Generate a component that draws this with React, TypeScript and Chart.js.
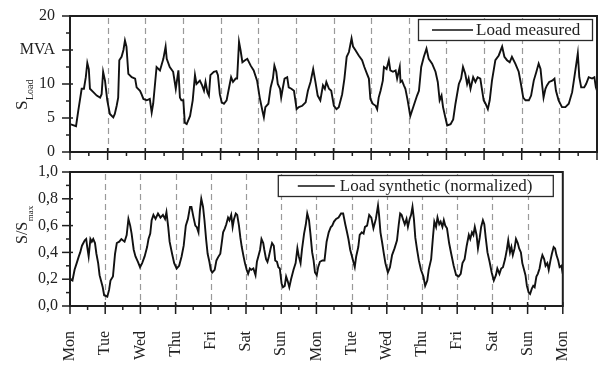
import React, { useEffect, useRef } from 'react';
import { Chart, registerables } from 'chart.js';
Chart.register(...registerables);

const FONT = '"Liberation Serif", "Times New Roman", Times, serif';

const dayLabels = ['Mon', 'Tue', 'Wed', 'Thu', 'Fri', 'Sat', 'Sun', 'Mon', 'Tue', 'Wed', 'Thu', 'Fri', 'Sat', 'Sun', 'Mon'];

// Top panel: measured load (MVA), time in days from the first Monday
const loadDays = [
  0.00, 0.16, 0.22, 0.31, 0.37, 0.42, 0.46, 0.50, 0.53, 0.62, 0.71, 0.80, 0.84, 0.88, 0.93, 0.99, 1.06, 1.15, 1.19, 1.24,
  1.28, 1.31, 1.37, 1.42, 1.46, 1.50, 1.55, 1.64, 1.73, 1.77, 1.86, 1.90, 1.95, 2.04, 2.12, 2.17, 2.21, 2.30, 2.39, 2.48,
  2.54, 2.57, 2.65, 2.74, 2.81, 2.88, 2.92, 2.96, 3.01, 3.05, 3.10, 3.19, 3.26, 3.32, 3.36, 3.45,
  3.51, 3.56, 3.60, 3.65, 3.69, 3.73, 3.82, 3.89, 3.93, 3.98, 4.03, 4.09, 4.16, 4.22, 4.28, 4.33, 4.40, 4.44, 4.49, 4.53,
  4.58, 4.65, 4.71, 4.80, 4.88, 4.97, 5.04, 5.11, 5.15, 5.19, 5.27, 5.33, 5.39, 5.43, 5.48, 5.52, 5.58, 5.61, 5.65, 5.70,
  5.77, 5.81, 5.88, 5.95, 6.02, 6.08, 6.17, 6.26, 6.32, 6.39, 6.46, 6.52, 6.58, 6.65, 6.72, 6.77, 6.81, 6.88, 6.94, 7.01,
  7.08, 7.14, 7.23, 7.29, 7.35, 7.41, 7.48, 7.52, 7.58, 7.67, 7.76, 7.82, 7.89, 7.94, 7.98, 8.04, 8.12, 8.16, 8.20, 8.25,
  8.31, 8.34, 8.41, 8.47, 8.51, 8.58, 8.65, 8.69, 8.76,
  8.78, 8.82, 8.87, 8.91, 8.97, 9.04, 9.13, 9.22, 9.27, 9.33, 9.40, 9.47, 9.53, 9.62, 9.71, 9.77, 9.82, 9.87, 9.91, 9.97,
  10.02, 10.11, 10.18, 10.24, 10.33, 10.39, 10.44, 10.50, 10.55, 10.59, 10.64, 10.71, 10.77, 10.83, 10.90, 10.95, 10.99, 11.04, 11.10, 11.15,
  11.21, 11.30, 11.39, 11.48, 11.54, 11.61, 11.68, 11.74, 11.83, 11.92, 11.98, 12.04, 12.10, 12.19, 12.25, 12.32, 12.39, 12.45, 12.50, 12.54,
  12.58, 12.63, 12.67, 12.73, 12.81, 12.87, 12.91, 12.98, 13.07, 13.16, 13.25, 13.34, 13.43, 13.49, 13.53, 13.58, 13.66, 13.71, 13.78, 13.87,
  13.93, 13.97, 14.00,
];
const loadMVA = [
  4.1, 3.8, 6.1, 9.3, 9.3, 11.0, 13.1, 12.2, 9.3, 8.8, 8.3, 8.0, 8.5, 11.8, 10.5, 7.6, 5.6, 5.1, 5.6, 6.8,
  8.0, 13.5, 14.0, 15.0, 16.4, 15.5, 11.5, 11.0, 10.8, 9.5, 9.0, 8.5, 7.8, 7.6, 7.8, 5.8, 7.1, 12.5, 12.0, 13.7,
  15.5, 13.7, 12.5, 11.8, 9.3, 12.0, 8.0, 7.6, 7.6, 4.3, 4.1, 5.3, 7.6, 11.3, 10.0, 10.5,
  9.8, 9.0, 10.3, 8.8, 8.3, 11.3, 11.8, 11.9, 11.3, 8.5, 7.3, 7.1, 7.6, 9.3, 11.0, 10.3, 10.8, 10.8, 16.2, 15.0,
  13.2, 13.5, 13.7, 12.7, 12.0, 10.5, 8.0, 6.1, 5.1, 6.6, 7.1, 9.5, 10.8, 12.7, 11.8, 10.0, 9.3, 8.0, 9.3, 10.8,
  11.0, 9.5, 9.3, 9.0, 6.3, 6.6, 6.8, 7.3, 9.0, 10.3, 12.2, 10.3, 8.3, 7.6, 9.8, 9.3, 10.3, 9.3, 9.0, 6.8,
  6.3, 6.6, 8.5, 10.8, 14.0, 14.7, 16.7, 15.5, 15.0, 14.2, 13.5, 12.5, 11.5, 10.8, 7.8, 7.1, 6.8, 6.3, 8.0, 9.0,
  10.5, 12.5, 12.2, 13.5, 12.0, 11.8, 12.0, 10.8, 12.5,
  10.3, 10.5, 9.8, 9.3, 7.6, 5.3, 6.8, 8.3, 9.0, 12.5, 14.0, 15.2, 13.7, 13.0, 11.8, 10.3, 7.6, 8.3, 6.6, 5.1,
  3.9, 4.1, 4.8, 7.1, 10.0, 10.8, 12.5, 11.5, 10.0, 10.8, 9.3, 11.0, 10.3, 11.0, 10.8, 9.0, 7.6, 7.1, 6.3, 7.6,
  10.5, 13.5, 14.2, 15.5, 14.0, 13.5, 13.2, 14.0, 13.0, 11.8, 10.0, 8.0, 7.6, 7.6, 8.3, 10.5, 11.8, 13.0, 12.2, 10.0,
  8.0, 9.3, 9.8, 10.3, 10.5, 10.8, 9.0, 7.6, 6.6, 6.6, 7.1, 8.8, 12.2, 14.5, 11.0, 9.5, 9.5, 10.0, 11.0, 10.8,
  11.0, 9.5, 9.0,
];

// Bottom panel: synthetic load, normalized S/Smax
const synthDays = [
  0.00, 0.07, 0.13, 0.19, 0.25, 0.29, 0.34, 0.38, 0.42, 0.46, 0.49, 0.53, 0.58, 0.62, 0.66, 0.71, 0.75, 0.80, 0.84, 0.88,
  0.93, 0.97, 1.06, 1.11, 1.15, 1.22, 1.28, 1.33, 1.40, 1.46, 1.55, 1.61, 1.66, 1.71, 1.75, 1.81, 1.86, 1.93, 1.99, 2.05,
  2.12, 2.19, 2.23, 2.28, 2.32, 2.37, 2.43, 2.50, 2.57, 2.64, 2.70, 2.74, 2.79, 2.83, 2.90, 2.96, 3.03, 3.10, 3.17, 3.23,
  3.29, 3.35, 3.41, 3.45,
  3.51, 3.56, 3.60, 3.65, 3.69, 3.73, 3.78, 3.82, 3.87, 3.91, 3.96, 4.00, 4.04, 4.11, 4.16, 4.22, 4.27, 4.31, 4.35, 4.40,
  4.44, 4.49, 4.53, 4.58, 4.62, 4.66, 4.71, 4.75, 4.80, 4.84, 4.88, 4.93, 4.97, 5.02, 5.06, 5.11, 5.15, 5.21, 5.27, 5.31,
  5.35, 5.40, 5.44, 5.49, 5.52, 5.57, 5.61, 5.65, 5.70, 5.74, 5.79, 5.83, 5.88, 5.92, 5.96, 6.01, 6.05, 6.10, 6.14, 6.19,
  6.23, 6.28, 6.35, 6.41, 6.46, 6.50, 6.55, 6.59, 6.65, 6.70, 6.74, 6.79, 6.83, 6.88, 6.92, 6.96, 7.01, 7.05, 7.10, 7.17,
  7.23, 7.29, 7.35, 7.41, 7.45, 7.50, 7.56, 7.63, 7.70, 7.76, 7.82, 7.87, 7.91, 7.96, 8.00, 8.05, 8.09, 8.13, 8.19, 8.23,
  8.29, 8.34, 8.38, 8.44, 8.50, 8.56, 8.62, 8.69, 8.75,
  8.78, 8.82, 8.87, 8.91, 8.96, 9.03, 9.09, 9.15, 9.22, 9.29, 9.34, 9.38, 9.42, 9.47, 9.51, 9.56, 9.60, 9.65, 9.69, 9.73,
  9.77, 9.81, 9.86, 9.91, 9.97, 10.04, 10.09, 10.15, 10.19, 10.26, 10.31, 10.35, 10.40, 10.44, 10.49, 10.53, 10.58, 10.62, 10.66, 10.71,
  10.77, 10.83, 10.90, 10.97, 11.04, 11.10, 11.15, 11.21, 11.27, 11.33, 11.37, 11.42, 11.46, 11.50, 11.55, 11.59, 11.64, 11.68, 11.73, 11.77,
  11.81, 11.86, 11.92, 11.98, 12.04, 12.10, 12.14, 12.20, 12.25, 12.30, 12.36, 12.41, 12.45, 12.50, 12.54, 12.58, 12.63, 12.67, 12.72, 12.76,
  12.81, 12.85, 12.89, 12.94, 12.98, 13.03, 13.07, 13.12, 13.16, 13.20, 13.25, 13.29, 13.34, 13.38, 13.42, 13.47, 13.51, 13.56, 13.60, 13.65,
  13.69, 13.74, 13.78, 13.82, 13.87, 13.91, 13.96, 14.00,
];
const synthNorm = [
  0.20, 0.19, 0.27, 0.32, 0.37, 0.40, 0.45, 0.47, 0.49, 0.50, 0.44, 0.37, 0.50, 0.48, 0.50, 0.47, 0.39, 0.32, 0.23, 0.19,
  0.14, 0.08, 0.07, 0.12, 0.19, 0.22, 0.39, 0.47, 0.48, 0.50, 0.48, 0.53, 0.65, 0.60, 0.54, 0.42, 0.37, 0.33, 0.29, 0.32,
  0.37, 0.44, 0.50, 0.54, 0.64, 0.68, 0.65, 0.69, 0.66, 0.68, 0.65, 0.70, 0.59, 0.48, 0.39, 0.32, 0.28, 0.30, 0.37, 0.45,
  0.60, 0.65, 0.74, 0.74,
  0.66, 0.60, 0.59, 0.55, 0.71, 0.80, 0.74, 0.64, 0.49, 0.39, 0.33, 0.27, 0.25, 0.27, 0.34, 0.37, 0.39, 0.47, 0.55, 0.58,
  0.61, 0.66, 0.64, 0.68, 0.59, 0.65, 0.69, 0.68, 0.60, 0.51, 0.44, 0.37, 0.32, 0.27, 0.24, 0.28, 0.27, 0.28, 0.23, 0.33,
  0.37, 0.42, 0.50, 0.47, 0.42, 0.35, 0.33, 0.37, 0.43, 0.47, 0.45, 0.34, 0.33, 0.29, 0.28, 0.17, 0.14, 0.15, 0.22, 0.18,
  0.14, 0.20, 0.27, 0.32, 0.43, 0.37, 0.32, 0.42, 0.54, 0.61, 0.69, 0.64, 0.54, 0.40, 0.34, 0.25, 0.23, 0.29, 0.33, 0.34,
  0.34, 0.48, 0.55, 0.59, 0.60, 0.63, 0.65, 0.66, 0.69, 0.69, 0.61, 0.55, 0.50, 0.42, 0.38, 0.33, 0.29, 0.37, 0.44, 0.53,
  0.55, 0.54, 0.59, 0.60, 0.68, 0.66, 0.58, 0.65, 0.75,
  0.68, 0.55, 0.47, 0.40, 0.32, 0.25, 0.29, 0.38, 0.43, 0.49, 0.61, 0.69, 0.68, 0.64, 0.61, 0.65, 0.59, 0.65, 0.68, 0.74,
  0.65, 0.51, 0.42, 0.34, 0.27, 0.22, 0.15, 0.19, 0.27, 0.35, 0.51, 0.63, 0.59, 0.66, 0.61, 0.63, 0.59, 0.64, 0.60, 0.58,
  0.47, 0.39, 0.30, 0.23, 0.22, 0.24, 0.32, 0.35, 0.45, 0.53, 0.50, 0.55, 0.53, 0.59, 0.53, 0.43, 0.51, 0.59, 0.64, 0.61,
  0.51, 0.40, 0.33, 0.25, 0.19, 0.23, 0.28, 0.24, 0.28, 0.29, 0.35, 0.42, 0.49, 0.40, 0.44, 0.38, 0.43, 0.50, 0.47, 0.43,
  0.40, 0.32, 0.28, 0.23, 0.15, 0.10, 0.09, 0.13, 0.15, 0.14, 0.22, 0.24, 0.28, 0.34, 0.38, 0.35, 0.30, 0.32, 0.27, 0.34,
  0.39, 0.44, 0.43, 0.38, 0.34, 0.29, 0.30, 0.24,
];

// Tick values and their labels (the top panel shows the unit "MVA" in place of 15)
const topMajor = [0, 5, 10, 15, 20];
const topMinor = [2.5, 7.5, 12.5, 17.5];
const topTickLabels = ['0', '5', '10', 'MVA', '20'];
const botMajor = [0, 0.2, 0.4, 0.6, 0.8, 1.0];
const botMinor = [0.1, 0.3, 0.5, 0.7, 0.9];
const botTickLabels = ['0,0', '0,2', '0,4', '0,6', '0,8', '1,0'];

type PanelOpts = {
  yMajor: number[];
  yMinor: number[];
  yLabels: string[];
  labelGap: number;
  legend: { dxLeft: number; dxRight: number; dyTop: number; h: number; lineFrom: number; lineTo: number; textX: number; text: string };
  title: (ctx: CanvasRenderingContext2D) => void;
};

function panelPlugin(o: PanelOpts) {
  return {
    id: 'panelDecor',
    beforeDatasetsDraw(chart: any) {
      const { ctx, chartArea: a } = chart;
      const xs = chart.scales.x;
      ctx.save();
      ctx.strokeStyle = '#9a9a9a';
      ctx.lineWidth = 1.2;
      ctx.setLineDash([6, 4]);
      for (let d = 1; d < 14; d++) {
        const x = Math.round(xs.getPixelForValue(d)) + 0.5;
        ctx.beginPath();
        ctx.moveTo(x, a.top + 2);
        ctx.lineTo(x, a.bottom);
        ctx.stroke();
      }
      ctx.restore();
    },
    afterDatasetsDraw(chart: any) {
      const { ctx, chartArea: a } = chart;
      const xs = chart.scales.x;
      const ys = chart.scales.y;
      ctx.save();
      ctx.setLineDash([]);
      ctx.strokeStyle = '#1e1e1e';
      ctx.lineWidth = 1.5;
      for (let i = 0; i <= 28; i++) {
        const major = i % 2 === 0;
        const x = xs.getPixelForValue(i / 2);
        ctx.beginPath();
        ctx.moveTo(x, a.bottom + (major ? 8 : 4));
        ctx.lineTo(x, major ? a.bottom - 4 : a.bottom);
        ctx.stroke();
      }
      o.yMajor.forEach((v) => {
        const y = ys.getPixelForValue(v);
        ctx.beginPath();
        ctx.moveTo(a.left - 8, y);
        ctx.lineTo(a.left + 3, y);
        ctx.stroke();
      });
      o.yMinor.forEach((v) => {
        const y = ys.getPixelForValue(v);
        ctx.beginPath();
        ctx.moveTo(a.left - 4, y);
        ctx.lineTo(a.left, y);
        ctx.stroke();
      });
      // y tick labels
      ctx.fillStyle = '#222';
      ctx.font = `16px ${FONT}`;
      ctx.textAlign = 'right';
      ctx.textBaseline = 'middle';
      o.yMajor.forEach((v, i) => {
        ctx.fillText(o.yLabels[i], a.left - o.labelGap, ys.getPixelForValue(v));
      });
      // frame
      ctx.lineWidth = 2;
      ctx.strokeRect(a.left, a.top, a.right - a.left, a.bottom - a.top);
      // legend
      const L = o.legend;
      const bx = a.right - L.dxLeft;
      const bw = L.dxLeft - L.dxRight;
      const by = a.top + L.dyTop;
      ctx.fillStyle = '#ffffff';
      ctx.fillRect(bx, by, bw, L.h);
      ctx.lineWidth = 1.3;
      ctx.strokeStyle = '#2a2a2a';
      ctx.strokeRect(bx + 0.5, by + 0.5, bw, L.h);
      const ly = by + L.h / 2 + 0.5;
      ctx.lineWidth = 1.6;
      ctx.strokeStyle = '#111';
      ctx.beginPath();
      ctx.moveTo(bx + L.lineFrom, ly);
      ctx.lineTo(bx + L.lineTo, ly);
      ctx.stroke();
      ctx.fillStyle = '#222';
      ctx.font = `17px ${FONT}`;
      ctx.textAlign = 'left';
      ctx.textBaseline = 'middle';
      ctx.fillText(L.text, bx + L.textX, ly + 1);
      ctx.restore();
    },
    afterDraw(chart: any) {
      const { ctx } = chart;
      ctx.save();
      ctx.fillStyle = '#222';
      o.title(ctx);
      ctx.restore();
    },
  };
}

function LoadChart() {
  const topRef = useRef<HTMLCanvasElement>(null);
  const botRef = useRef<HTMLCanvasElement>(null);

  useEffect(() => {
    const tickFont = { family: FONT, size: 16 };
    const hiddenY = {
      grid: { display: false, drawTicks: false },
      border: { display: false },
      afterFit: (s: any) => { s.width = 70; },
    };
    const top = new Chart(topRef.current as HTMLCanvasElement, {
      type: 'line',
      data: {
        datasets: [
          {
            data: loadDays.map((d, i) => ({ x: d, y: loadMVA[i] })),
            borderColor: '#111',
            borderWidth: 1.9,
            pointRadius: 0,
            tension: 0,
            fill: false,
          },
        ],
      },
      options: {
        responsive: false,
        animation: false,
        devicePixelRatio: 1,
        layout: { padding: { top: 16, right: 10, left: 0, bottom: 0 } },
        plugins: { legend: { display: false }, tooltip: { enabled: false } },
        scales: {
          x: {
            type: 'linear',
            min: 0,
            max: 14,
            grid: { display: false, drawTicks: false },
            border: { display: false },
            ticks: { display: false, stepSize: 1 },
            afterFit: (s: any) => { s.height = 8; },
          },
          y: { ...hiddenY, min: 0, max: 20, ticks: { display: false, stepSize: 5 } },
        },
      } as any,
      plugins: [
        panelPlugin({
          yMajor: topMajor,
          yMinor: topMinor,
          yLabels: topTickLabels,
          labelGap: 15,
          legend: { dxLeft: 179, dxRight: 5, dyTop: 3, h: 21, lineFrom: 14, lineTo: 55, textX: 58, text: 'Load measured' },
          title: (ctx) => {
            ctx.translate(27, 110);
            ctx.rotate(-Math.PI / 2);
            ctx.textAlign = 'left';
            ctx.textBaseline = 'alphabetic';
            ctx.font = `17px ${FONT}`;
            ctx.fillText('S', 0, 0);
            const w = ctx.measureText('S').width;
            ctx.font = `10px ${FONT}`;
            ctx.fillText('Load', w + 0.5, 6);
          },
        }),
      ],
    });

    const bot = new Chart(botRef.current as HTMLCanvasElement, {
      type: 'line',
      data: {
        datasets: [
          {
            data: synthDays.map((d, i) => ({ x: d, y: synthNorm[i] })),
            borderColor: '#111',
            borderWidth: 1.9,
            pointRadius: 0,
            tension: 0,
            fill: false,
          },
        ],
      },
      options: {
        responsive: false,
        animation: false,
        devicePixelRatio: 1,
        layout: { padding: { top: 12, right: 10, left: 0, bottom: 0 } },
        plugins: { legend: { display: false }, tooltip: { enabled: false } },
        scales: {
          x: {
            type: 'linear',
            min: 0,
            max: 14,
            grid: { display: false, drawTicks: false },
            border: { display: false },
            ticks: {
              stepSize: 1,
              autoSkip: false,
              minRotation: 90,
              maxRotation: 90,
              padding: 25,
              color: '#222',
              font: tickFont,
              callback: (v: any) => dayLabels[Math.round(Number(v))] ?? '',
            },
            afterFit: (s: any) => { s.height = 59; },
          },
          y: { ...hiddenY, min: 0, max: 1, ticks: { display: false, stepSize: 0.2 } },
        },
      } as any,
      plugins: [
        panelPlugin({
          yMajor: botMajor,
          yMinor: botMinor,
          yLabels: botTickLabels,
          labelGap: 12,
          legend: { dxLeft: 285, dxRight: 10, dyTop: 3, h: 21, lineFrom: 20, lineTo: 57, textX: 62, text: 'Load synthetic (normalized)' },
          title: (ctx) => {
            ctx.translate(27, 84);
            ctx.rotate(-Math.PI / 2);
            ctx.textAlign = 'left';
            ctx.textBaseline = 'alphabetic';
            ctx.font = `16px ${FONT}`;
            ctx.fillText('S/S', 0, 0);
            const w = ctx.measureText('S/S').width;
            ctx.font = `9px ${FONT}`;
            ctx.fillText('max', w + 0.5, 6);
          },
        }),
      ],
    });

    return () => {
      top.destroy();
      bot.destroy();
    };
  }, []);

  return (
    <div style={{ position: 'absolute', left: 0, top: 0, width: 607, height: 365, background: '#ffffff', overflow: 'hidden' }}>
      <canvas ref={topRef} width={607} height={160} style={{ position: 'absolute', left: 0, top: 0, width: 607, height: 160 }} />
      <canvas ref={botRef} width={607} height={205} style={{ position: 'absolute', left: 0, top: 160, width: 607, height: 205 }} />
    </div>
  );
}

export default function App() {
  return <LoadChart />;
}
